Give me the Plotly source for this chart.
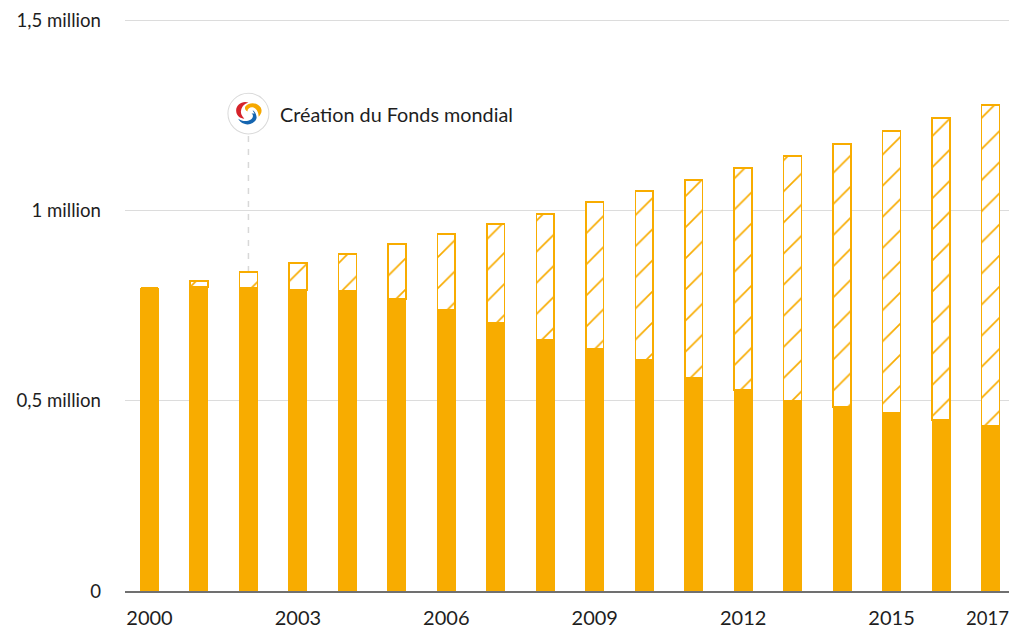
import base64
import plotly.graph_objects as go

years = list(range(2000, 2018))
observed = [0.796, 0.799, 0.796, 0.791, 0.789, 0.767, 0.738, 0.704, 0.659,
            0.636, 0.607, 0.560, 0.528, 0.499, 0.483, 0.468, 0.449, 0.433]
projected_total = [0.796, 0.814, 0.838, 0.862, 0.885, 0.912, 0.938, 0.964, 0.990,
                   1.022, 1.051, 1.080, 1.111, 1.143, 1.174, 1.208, 1.243, 1.277]
gap = [round(t - o, 3) for t, o in zip(projected_total, observed)]
x_ticks = [2000, 2003, 2006, 2009, 2012, 2015]
last_year = "2017"
y_ticks = [0, 0.5, 1, 1.5]
y_labels = ["0", "0,5 million", "1 million", "1,5 million"]
note = "Création du Fonds mondial"

ORANGE = "#F8AC00"
FONT = "Lato"

logo_svg = """<svg xmlns='http://www.w3.org/2000/svg' viewBox='0 0 42 42'>
<circle cx='21' cy='21' r='20' fill='white' stroke='#DADADA' stroke-width='1'/>
<path d='M21 10 C15 8 9 12 9 18 C9 23 13 26 17 26 C14 23 13 20 14 17 C15 13 18 11 21 10Z' fill='#D5232A'/>
<path d='M18 14 C22 9 30 10 33 15 C35 19 33 22 31 24 C31 20 29 16 26 15 C23 14 20 16 20 19 C18 18 17 16 18 14Z' fill='#F6A800'/>
<path d='M25 18 C27 18 29 22 29 25 C28 30 22 33 17 31 C14 30 12 28 11 26 C15 29 20 29 23 27 C26 25 26 22 24 21 L27 21Z' fill='#1565B0'/>
</svg>"""
logo_uri = "data:image/svg+xml;base64," + base64.b64encode(logo_svg.encode()).decode()

fig = go.Figure()
fig.add_bar(x=years, y=observed, width=0.384,
            marker=dict(color=ORANGE, line=dict(width=0)), showlegend=False)
fig.add_bar(x=years, y=gap, width=0.36,
            marker=dict(color="white", line=dict(color=ORANGE, width=1.5),
                        pattern=dict(shape="/", size=22, solidity=0.075,
                                     fgcolor=ORANGE, bgcolor="white", fillmode="replace")),
            showlegend=False)

fig.add_shape(type="line", x0=2002, x1=2002, y0=projected_total[2], y1=1.196,
              xref="x", yref="y", layer="below",
              line=dict(color="#D8D8D8", width=1.5, dash="6px,7px"))

fig.add_layout_image(dict(source=logo_uri, xref="x", yref="y", x=2002, y=1.2541,
                          sizex=0.87, sizey=0.112, xanchor="center", yanchor="middle",
                          sizing="stretch", layer="above"))
fig.add_annotation(x=2002.59, y=1.2541, xref="x", yref="y", text=note, showarrow=False,
                   xanchor="left", yanchor="middle",
                   font=dict(family=FONT, size=19.8, color="#1E1E1E"))
fig.add_annotation(x=1, y=0, xref="paper", yref="paper", yshift=-27, text=last_year, showarrow=False,
                   xanchor="right", yanchor="middle", xshift=2,
                   font=dict(family=FONT, size=18.5, color="#1E1E1E"))

fig.update_layout(
    width=1009, height=632, barmode="stack", bargap=0.6,
    margin=dict(l=125, r=0, t=10, b=41),
    paper_bgcolor="white", plot_bgcolor="white",
    font=dict(family=FONT, size=18.6, color="#1E1E1E"),
    xaxis=dict(range=[1999.505, 2017.374], tickmode="array", tickvals=x_ticks,
               ticktext=[str(v) for v in x_ticks], showgrid=False, zeroline=False,
               showline=True, linecolor="#707070", linewidth=1.5, ticks="",
               ticklabelstandoff=8, tickfont=dict(size=20)),
    yaxis=dict(range=[0, 1.5 + 10 / 380.67], tickmode="array", tickvals=y_ticks, ticktext=y_labels,
               showgrid=True, gridcolor="#DCDCDC", gridwidth=1, zeroline=False,
               showline=False, ticks="", ticklabelstandoff=23),
)
fig.write_html("out.html", config={"displayModeBar": False},
               post_script="document.body.style.margin='0';document.documentElement.style.overflow='hidden';")
